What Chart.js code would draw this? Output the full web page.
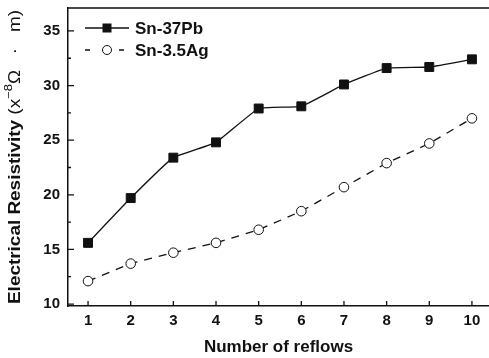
<!DOCTYPE html>
<html>
<head>
    <script src="https://cdn.jsdelivr.net/npm/chart.js"></script>
    <style>
        body { margin: 0; background: #fff; }
    </style>
</head>
<body>
    <canvas id="myChart" width="489" height="358"></canvas>

    <script>
        // donnees
        var reflows = [1, 2, 3, 4, 5, 6, 7, 8, 9, 10];
        var snPb = [15.6, 19.7, 23.4, 24.8, 27.9, 28.1, 30.1, 31.6, 31.7, 32.4];
        var snAg = [12.1, 13.7, 14.7, 15.6, 16.8, 18.5, 20.7, 22.9, 24.7, 27.0];
        var yTicks = [10, 15, 20, 25, 30, 35];
        var yMinor = [12.5, 17.5, 22.5, 27.5, 32.5];

        function pts(vals) {
            return reflows.map(function(x, i) { return { x: x, y: vals[i] }; });
        }

        var tickFont = { family: 'Liberation Sans', size: 15, weight: 'bold' };

        // ticks vers l'interieur, bord du haut, legende, titre Y
        var decor = {
            id: 'decor',
            afterDraw: function(chart) {
                var c = chart.ctx, a = chart.chartArea;
                var xs = chart.scales.x, ys = chart.scales.y;
                c.save();
                c.strokeStyle = '#111';
                c.lineWidth = 1.3;
                c.beginPath();
                c.moveTo(a.left, a.top);
                c.lineTo(a.right, a.top);
                reflows.forEach(function(v) {
                    var px = xs.getPixelForValue(v);
                    c.moveTo(px, a.bottom);
                    c.lineTo(px, a.bottom - 5);
                });
                yTicks.forEach(function(v) {
                    var py = ys.getPixelForValue(v);
                    c.moveTo(a.left, py);
                    c.lineTo(a.left + 6, py);
                });
                yMinor.forEach(function(v) {
                    var py = ys.getPixelForValue(v);
                    c.moveTo(a.left, py);
                    c.lineTo(a.left + 3, py);
                });
                c.stroke();

                // legende
                var rows = [{ ds: chart.data.datasets[0], y: 28 }, { ds: chart.data.datasets[1], y: 50 }];
                rows.forEach(function(r) {
                    c.lineWidth = 1.3;
                    c.strokeStyle = '#111';
                    c.setLineDash(r.ds.borderDash ? [5, 12] : []);
                    c.beginPath();
                    c.moveTo(85, r.y);
                    c.lineTo(129, r.y);
                    c.stroke();
                    c.setLineDash([]);
                    c.lineWidth = 1;
                    if (r.ds.pointStyle === 'rect') {
                        c.fillStyle = '#111';
                        c.fillRect(102.5, r.y - 4.5, 9, 9);
                    } else {
                        c.beginPath();
                        c.arc(107, r.y, 4.5, 0, Math.PI * 2);
                        c.fillStyle = '#fff';
                        c.fill();
                        c.stroke();
                    }
                    c.fillStyle = '#111';
                    c.font = 'bold 17px "Liberation Sans"';
                    c.textBaseline = 'middle';
                    c.textAlign = 'left';
                    c.fillText(r.ds.label, 135, r.y + 1);
                });

                // titre axe Y avec exposant, etire a la longueur de l'original
                c.translate(16, 304);
                c.rotate(-Math.PI / 2);
                c.textBaseline = 'middle';
                c.textAlign = 'left';
                var parts = [
                    ['Electrical Resistivity ', 'bold 16px "Liberation Sans"', 0],
                    ['(x', '16px "Liberation Sans"', 0],
                    ['\u22128', '11px "Liberation Sans"', -7],
                    ['\u03A9   \u00B7   m)', '16px "Liberation Sans"', 0]
                ];
                var total = 0;
                parts.forEach(function(p) { c.font = p[1]; total += c.measureText(p[0]).width; });
                c.scale(294 / total, 1);
                var x = 0;
                parts.forEach(function(p) {
                    c.font = p[1];
                    c.fillText(p[0], x, p[2]);
                    x += c.measureText(p[0]).width;
                });
                c.restore();
            }
        };

        var ctx = document.getElementById('myChart').getContext('2d');
        var chart = new Chart(ctx, {
            type: 'line',
            data: {
                datasets: [{
                    label: 'Sn-37Pb',
                    data: pts(snPb),
                    borderColor: '#111',
                    borderWidth: 1.3,
                    pointStyle: 'rect',
                    pointRadius: 6.3,
                    pointBorderWidth: 1,
                    pointBackgroundColor: '#111',
                    pointBorderColor: '#111',
                    tension: 0.1
                },
                {
                    label: 'Sn-3.5Ag',
                    data: pts(snAg),
                    borderColor: '#111',
                    borderWidth: 1.3,
                    borderDash: [8, 7],
                    pointStyle: 'circle',
                    pointRadius: 4.8,
                    pointBorderWidth: 1,
                    pointBackgroundColor: '#fff',
                    pointBorderColor: '#111',
                    tension: 0
                }]
            },
            options: {
                responsive: false,
                animation: false,
                devicePixelRatio: 1,
                layout: { autoPadding: false, padding: { top: 8, right: 0, left: 0, bottom: 0 } },
                plugins: {
                    legend: { display: false },
                    tooltip: { enabled: false }
                },
                scales: {
                    x: {
                        type: 'linear',
                        min: 0.53,
                        max: 10.4,
                        afterBuildTicks: function(s) {
                            s.ticks = reflows.map(function(v) { return { value: v }; });
                        },
                        afterFit: function(s) {
                            s.height = 52;
                            s.paddingLeft = 0; s.paddingRight = 0;
                        },
                        grid: { display: false, drawTicks: false },
                        border: { display: true, color: '#111', width: 1.5 },
                        ticks: { color: '#111', font: tickFont, padding: 6, maxRotation: 0 },
                        title: {
                            display: true,
                            text: 'Number of reflows',
                            color: '#111',
                            font: { family: 'Liberation Sans', size: 17, weight: 'bold' },
                            padding: { top: 0, bottom: 0 }
                        }
                    },
                    y: {
                        min: 9.82,
                        max: 37.1,
                        afterBuildTicks: function(s) {
                            s.ticks = yTicks.map(function(v) { return { value: v }; });
                        },
                        afterFit: function(s) {
                            s.width = 68;
                            s.paddingTop = 0; s.paddingBottom = 0;
                        },
                        grid: { display: false, drawTicks: false },
                        border: { display: true, color: '#111', width: 1.5 },
                        ticks: { color: '#111', font: tickFont, padding: 8 }
                    }
                }
            },
            plugins: [decor]
        });
    </script>
</body>
</html>
